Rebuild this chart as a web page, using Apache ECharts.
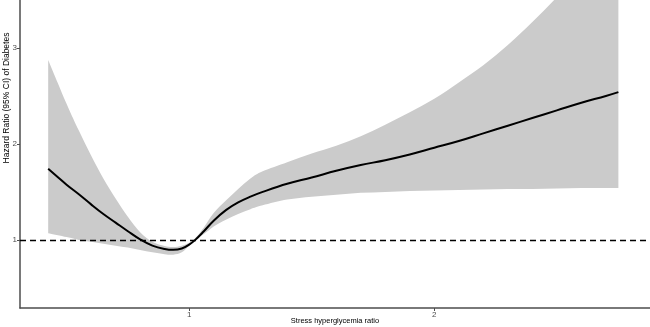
<!DOCTYPE html>
<html>
<head>
<meta charset="utf-8">
<script src="https://cdn.jsdelivr.net/npm/echarts@6/dist/echarts.min.js"></script>
<style>
  html, body { margin: 0; padding: 0; background: #fff; }
  #chart { width: 650px; height: 327px; }
</style>
</head>
<body>
<div id="chart"></div>
<script>
// stress hyperglycemia ratio (x) with hazard ratio and 95% CI
const ratio = [0.425, 0.5, 0.55, 0.6, 0.65, 0.7, 0.75, 0.8, 0.85, 0.9, 0.935, 0.97, 1.0, 1.025,
  1.06, 1.1, 1.15, 1.2, 1.25, 1.3, 1.4, 1.5, 1.6, 1.7, 1.8, 1.9, 2.0, 2.1, 2.2, 2.3, 2.4, 2.5,
  2.6, 2.7, 2.751];
const hr = [1.74, 1.575, 1.475, 1.37, 1.27, 1.18, 1.09, 1.005, 0.94, 0.905, 0.896, 0.91, 0.95, 1.0,
  1.09, 1.2, 1.31, 1.39, 1.45, 1.5, 1.585, 1.65, 1.72, 1.78, 1.83, 1.89, 1.96, 2.03, 2.11, 2.19,
  2.27, 2.35, 2.43, 2.5, 2.54];
const upper = [2.875, 2.42, 2.14, 1.88, 1.64, 1.43, 1.24, 1.08, 0.98, 0.935, 0.925, 0.94, 0.97, 1.02,
  1.13, 1.28, 1.41, 1.53, 1.64, 1.715, 1.81, 1.9, 1.98, 2.08, 2.2, 2.33, 2.47, 2.64, 2.82, 3.03,
  3.27, 3.53, 3.82, 4.13, 4.3];
const lower = [1.07, 1.03, 1.0, 0.98, 0.96, 0.94, 0.92, 0.895, 0.87, 0.85, 0.845, 0.87, 0.94, 1.0,
  1.06, 1.14, 1.21, 1.27, 1.32, 1.36, 1.42, 1.45, 1.47, 1.49, 1.5, 1.51, 1.515, 1.52, 1.525, 1.53,
  1.53, 1.535, 1.54, 1.54, 1.54];
const xTicks = [1, 2];
const yTicks = [1, 2, 3];
const refLine = 1;

const axisColor = '#4d4d4d';
const font = 'Liberation Sans';

// smooth path through pixel points (catmull-rom as cubic beziers)
const curveTo = (pts) => {
  let d = '';
  for (let i = 0; i < pts.length - 1; i++) {
    const p0 = pts[i - 1] || pts[i];
    const p1 = pts[i];
    const p2 = pts[i + 1];
    const p3 = pts[i + 2] || p2;
    const c1 = [p1[0] + (p2[0] - p0[0]) / 6, p1[1] + (p2[1] - p0[1]) / 6];
    const c2 = [p2[0] - (p3[0] - p1[0]) / 6, p2[1] - (p3[1] - p1[1]) / 6];
    d += 'C' + c1.join(' ') + ' ' + c2.join(' ') + ' ' + p2.join(' ');
  }
  return d;
};

const chart = echarts.init(document.getElementById('chart'));
chart.setOption({
  animation: false,
  grid: { left: 20, right: 0, top: 0, bottom: 19, outerBoundsMode: 'none', containLabel: false },
  xAxis: {
    type: 'value',
    min: 0.31,
    max: 2.88,
    name: 'Stress hyperglycemia ratio',
    nameLocation: 'middle',
    nameGap: 9,
    nameMoveOverlap: false,
    nameTextStyle: { fontFamily: font, fontSize: 7.5, color: '#000' },
    splitLine: { show: false },
    axisLine: { lineStyle: { color: axisColor, width: 1.5 } },
    axisTick: { customValues: xTicks, length: 3, lineStyle: { color: axisColor } },
    axisLabel: { customValues: xTicks, margin: 3, fontFamily: font, fontSize: 8, color: axisColor },
  },
  yAxis: {
    type: 'value',
    min: 0.29,
    max: 3.5,
    splitLine: { show: false },
    axisLine: { show: true, lineStyle: { color: axisColor, width: 1.5 } },
    axisTick: { show: true, customValues: yTicks, length: 3, lineStyle: { color: axisColor } },
    axisLabel: { customValues: yTicks, margin: 3, fontFamily: font, fontSize: 8, color: axisColor },
  },
  graphic: [{
    type: 'text',
    x: 7,
    y: 98,
    rotation: Math.PI / 2,
    style: {
      text: 'Hazard Ratio (95% CI) of Diabetes',
      fontFamily: font,
      fontSize: 8.5,
      fill: '#000',
      align: 'center',
      verticalAlign: 'middle',
    },
  }],
  series: [
    {
      name: 'CI',
      type: 'custom',
      clip: true,
      silent: true,
      z: 1,
      data: [[ratio[0], upper[0]]],
      renderItem: (params, api) => {
        const top = ratio.map((x, i) => api.coord([x, upper[i]]));
        const bottom = ratio.map((x, i) => api.coord([x, lower[i]])).reverse();
        const pathData = 'M' + top[0].join(' ') + curveTo(top)
          + 'L' + bottom[0].join(' ') + curveTo(bottom) + 'Z';
        return {
          type: 'path',
          shape: { pathData },
          style: { fill: '#cbcbcb' },
        };
      },
    },
    {
      name: 'HR',
      type: 'line',
      data: ratio.map((x, i) => [x, hr[i]]),
      showSymbol: false,
      smooth: 0.4,
      lineStyle: { color: '#000', width: 2 },
      z: 3,
      markLine: {
        silent: true,
        symbol: 'none',
        label: { show: false },
        lineStyle: { color: '#000', width: 1.3, type: [6, 4] },
        data: [{ yAxis: refLine }],
      },
    },
  ],
});
</script>
</body>
</html>
